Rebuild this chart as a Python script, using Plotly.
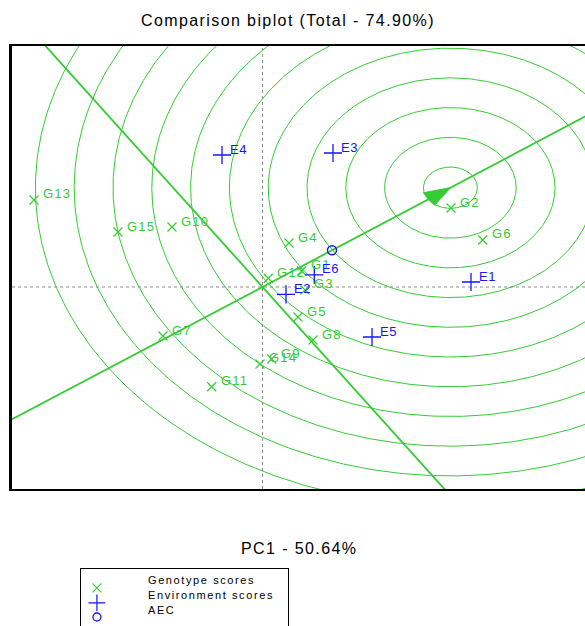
import numpy as np
import plotly.graph_objects as go

# ---- biplot scores -------------------------------------------------------
genotypes = ["G1", "G2", "G3", "G4", "G5", "G6", "G7", "G8",
             "G9", "G10", "G11", "G12", "G13", "G14", "G15"]
geno_pc1 = [0.392, 1.885, 0.425, 0.265, 0.355, 2.202, -0.995, 0.505,
            0.092, -0.905, -0.508, 0.058, -2.285, -0.025, -1.445]
geno_pc2 = [0.209, 1.031, -0.039, 0.574, -0.392, 0.614, -0.640, -0.692,
            -0.940, 0.783, -1.302, 0.114, 1.136, -1.005, 0.718]

environments = ["E1", "E2", "E3", "E4", "E5", "E6"]
env_pc1 = [2.085, 0.235, 0.705, -0.405, 1.095, 0.518]
env_pc2 = [0.065, -0.095, 1.749, 1.723, -0.653, 0.157]

# average environment (AEC) and the ideal genotype it points to
aec_pc1, aec_pc2 = 0.695, 0.479
ideal_pc1, ideal_pc2 = 1.879, 1.296

# concentric distance rings around the ideal genotype
circle_radii = [0.27, 0.658, 1.046, 1.434, 1.822, 2.21,
                2.598, 2.986, 3.374, 3.762, 4.15]

title_text = "Comparison biplot (Total - 74.90%)"
x_title_text = "PC1 - 50.64%"
legend_labels = ["Genotype scores", "Environment scores", "AEC"]

GREEN = "#33cc33"
BLUE = "#1414ff"
FONT = "Liberation Sans, Arial, sans-serif"

X_RANGE = [-2.505, 3.225]
Y_RANGE = [-2.637, 3.146]
MAIN_DOMAIN = [0.2362, 1.0]


def spaced(text, px):
    return f'<span style="letter-spacing:{px}px">{text}</span>'


fig = go.Figure()

# rings
theta = np.linspace(0, 2 * np.pi, 721)
for r in circle_radii:
    fig.add_trace(go.Scatter(
        x=ideal_pc1 + r * np.cos(theta), y=ideal_pc2 + r * np.sin(theta),
        mode="lines", line=dict(color=GREEN, width=1), hoverinfo="skip"))

# AEC abscissa (through origin and ideal genotype) and its perpendicular
u = np.array([ideal_pc1, ideal_pc2])
u = u / np.linalg.norm(u)
v = np.array([-u[1], u[0]])
t = np.array([-20.0, 20.0])
fig.add_trace(go.Scatter(x=t * u[0], y=t * u[1], mode="lines",
                         line=dict(color=GREEN, width=1.8), hoverinfo="skip"))
fig.add_trace(go.Scatter(x=t * v[0], y=t * v[1], mode="lines",
                         line=dict(color=GREEN, width=1.8), hoverinfo="skip"))

# arrowhead pointing at the ideal genotype
tip = np.array([ideal_pc1, ideal_pc2])
base = tip - 0.26 * u
head = np.array([tip, base + 0.10 * v, base - 0.10 * v, tip])
fig.add_trace(go.Scatter(x=head[:, 0], y=head[:, 1], mode="lines",
                         fill="toself", fillcolor=GREEN,
                         line=dict(color=GREEN, width=1), hoverinfo="skip"))

# genotype and environment scores
fig.add_trace(go.Scatter(
    x=geno_pc1, y=geno_pc2, mode="markers",
    marker=dict(symbol="x-thin-open", size=9, color=GREEN,
                line=dict(color=GREEN, width=1.2))))
fig.add_trace(go.Scatter(
    x=env_pc1, y=env_pc2, mode="markers",
    marker=dict(symbol="cross-thin-open", size=13, color=BLUE,
                line=dict(color=BLUE, width=1.3))))
fig.add_trace(go.Scatter(
    x=[aec_pc1], y=[aec_pc2], mode="markers",
    marker=dict(symbol="circle-open", size=9, color=BLUE,
                line=dict(color=BLUE, width=1.4))))

annotations = []
for name, px_, py_ in zip(genotypes, geno_pc1, geno_pc2):
    annotations.append(dict(
        x=px_, y=py_, xref="x", yref="y", text=spaced(name, 1.2),
        showarrow=False, xanchor="left", yanchor="middle",
        xshift=7, yshift=6, font=dict(family=FONT, size=13, color=GREEN)))
for name, px_, py_ in zip(environments, env_pc1, env_pc2):
    annotations.append(dict(
        x=px_, y=py_, xref="x", yref="y", text=spaced(name, 0.6),
        showarrow=False, xanchor="left", yanchor="middle",
        xshift=6, yshift=6, font=dict(family=FONT, size=13, color=BLUE)))

# titles
annotations.append(dict(
    x=0.4817, y=1.0448, xref="paper", yref="paper", text=spaced(title_text, 1.4),
    showarrow=False, xanchor="center", yanchor="middle",
    font=dict(family=FONT, size=16, color="black")))
annotations.append(dict(
    x=0.5, y=0.1328, xref="paper", yref="paper", text=spaced(x_title_text, 1.4),
    showarrow=False, xanchor="center", yanchor="middle",
    font=dict(family=FONT, size=16, color="black")))

# legend box contents (drawn on its own small axes)
key_y = [0.667, 0.404, 0.158]
text_y = [0.807, 0.544, 0.281]
fig.add_trace(go.Scatter(
    x=[0.077], y=[key_y[0]], xaxis="x2", yaxis="y2", mode="markers",
    marker=dict(symbol="x-thin-open", size=9, color=GREEN,
                line=dict(color=GREEN, width=1.1))))
fig.add_trace(go.Scatter(
    x=[0.077], y=[key_y[1]], xaxis="x2", yaxis="y2", mode="markers",
    marker=dict(symbol="cross-thin-open", size=12, color=BLUE,
                line=dict(color=BLUE, width=1.2))))
fig.add_trace(go.Scatter(
    x=[0.077], y=[key_y[2]], xaxis="x2", yaxis="y2", mode="markers",
    marker=dict(symbol="circle-open", size=8, color=BLUE,
                line=dict(color=BLUE, width=1.3))))
for lab, yy in zip(legend_labels, text_y):
    annotations.append(dict(
        x=0.312, y=yy, xref="x2", yref="y2", text=spaced(lab, 1.6),
        showarrow=False, xanchor="left", yanchor="middle",
        font=dict(family=FONT, size=11, color="black")))

shapes = [
    dict(type="line", xref="x", yref="y domain", x0=0, x1=0, y0=0, y1=1,
         line=dict(color="#8c8c8c", width=1, dash="dot"), layer="below"),
    dict(type="line", xref="x domain", yref="y", x0=0, x1=1, y0=0, y1=0,
         line=dict(color="#8c8c8c", width=1, dash="dot"), layer="below"),
]

axis_common = dict(showgrid=False, zeroline=False, showticklabels=False,
                   ticks="", fixedrange=True)

fig.update_layout(
    width=585, height=626,
    margin=dict(l=12, r=0, t=46, b=0, pad=0),
    paper_bgcolor="white", plot_bgcolor="white",
    showlegend=False, hovermode=False,
    xaxis=dict(range=X_RANGE, domain=[0, 1], anchor="y",
               showline=True, linecolor="black", linewidth=2, mirror=True,
               **axis_common),
    yaxis=dict(range=Y_RANGE, domain=MAIN_DOMAIN, anchor="x",
               showline=True, linecolor="black", linewidth=2.5, mirror=False,
               **axis_common),
    xaxis2=dict(range=[0, 1], domain=[0.1204, 0.4817], anchor="y2", side="top",
                showline=True, linecolor="black", linewidth=1, **axis_common),
    yaxis2=dict(range=[0, 1], domain=[0, 0.0983], anchor="x2",
                showline=True, linecolor="black", linewidth=1, mirror=True,
                **axis_common),
    annotations=annotations,
    shapes=shapes,
)

fig.write_html("out.html")
